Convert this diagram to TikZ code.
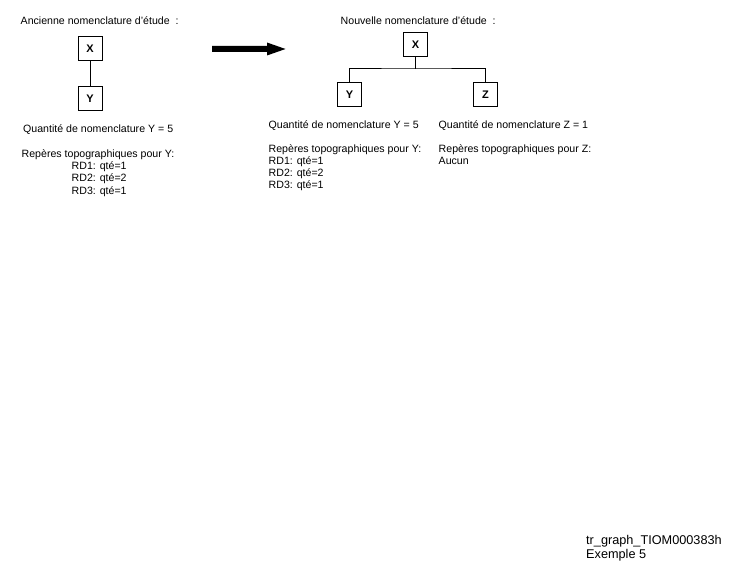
\documentclass[tikz,border=0pt]{standalone}
\usepackage{fontspec}
\setmainfont{Liberation Sans}
\begin{document}
\begin{tikzpicture}[x=1pt,y=-1pt,
  txt/.style={anchor=base west,inner sep=0pt,font=\fontsize{10.6}{12}\selectfont},
  foot/.style={anchor=base west,inner sep=0pt,font=\fontsize{12.7}{14}\selectfont},
  box/.style={draw,line width=1pt,minimum width=24pt,minimum height=24pt,inner sep=0pt,font=\fontsize{11}{12}\selectfont\bfseries},
  link/.style={line width=1pt}]
\useasboundingbox[fill=white] (0,0) rectangle (750,567);
% old
\node[txt] (t1) at (20.5,25) {Ancienne nomenclature d'étude\ \ :};
\node[box] (ox) at (90,48.5) {X};
\node[box] (oy) at (90,98.5) {Y};
\draw[link] (ox) -- (oy);
\node[txt] (oq) at (23,133) {Quantité de nomenclature Y = 5};
\node[txt] (or) at (21.5,158) {Repères topographiques pour Y:};
\node[txt] (o1) at (71.5,170) {RD1: qté=1};
\node[txt] (o2) at (71.5,182) {RD2: qté=2};
\node[txt] (o3) at (71.5,194.5) {RD3: qté=1};
% arrow
\fill (212,46) -- (267,46) -- (267,42.5) -- (285.5,49) -- (267,55.5) -- (267,52) -- (212,52) -- cycle;
% new
\node[txt] (t2) at (340.5,25) {Nouvelle nomenclature d'étude\ \ :};
\node[box] (nx) at (415.5,44.5) {X};
\node[box] (ny) at (349.5,94.5) {Y};
\node[box] (nz) at (485.5,94.5) {Z};
\coordinate (jn) at (415.5,69);
\draw[link] (nx) -- (jn);
\draw[link] (ny) |- (jn) -| (nz);
\node[txt] (nq) at (268.5,128.5) {Quantité de nomenclature Y = 5};
\node[txt] (nr) at (268.5,152.5) {Repères topographiques pour Y:};
\node[txt] (n1) at (268.5,165) {RD1: qté=1};
\node[txt] (n2) at (268.5,177) {RD2: qté=2};
\node[txt] (n3) at (268.5,189) {RD3: qté=1};
\node[txt] (zq) at (438.5,128.5) {Quantité de nomenclature Z = 1};
\node[txt] (zr) at (438.5,152.5) {Repères topographiques pour Z:};
\node[txt] (za) at (438.5,165) {Aucun};
% footer
\node[foot] (f1) at (586,544.5) {tr\_graph\_TIOM000383h};
\node[foot] (f2) at (586,558) {Exemple 5};
\end{tikzpicture}
\end{document}
